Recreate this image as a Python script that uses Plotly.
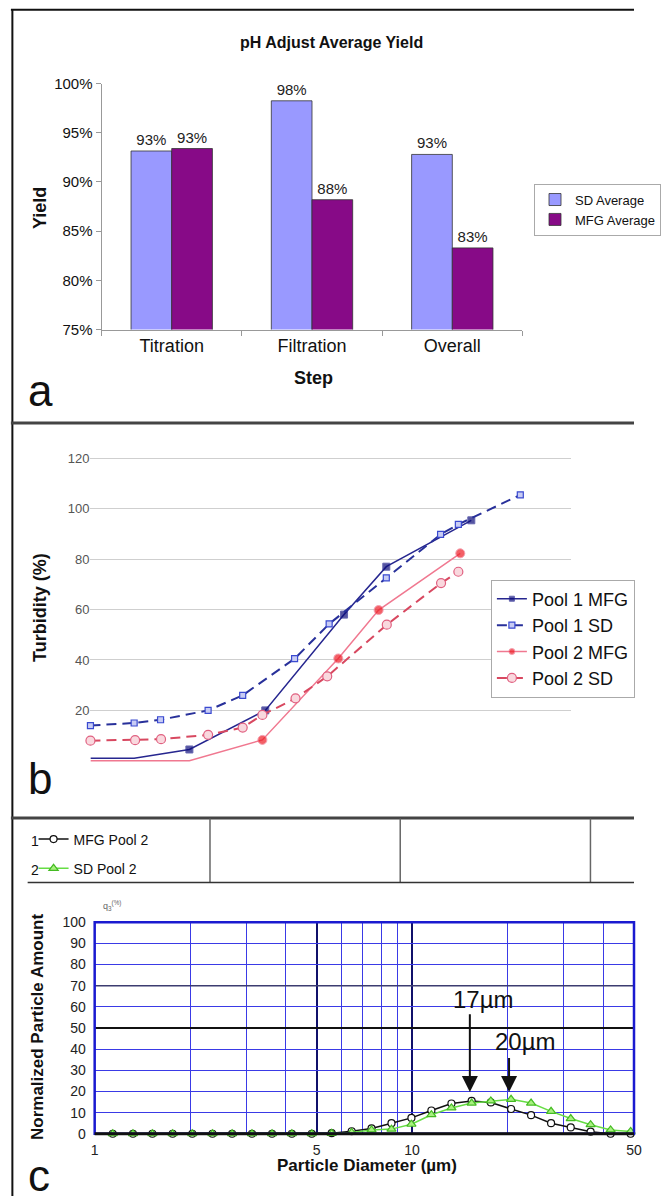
import math
import plotly.graph_objects as go

W, H = 661, 1204
FONT = "Liberation Sans, Arial, sans-serif"
# the photographed page is slightly shrunk and offset; these undo it
SX, OX = 0.967, 3.0
SY, OY = 0.986, 8.4

# ---------------- Panel a data ----------------
a_steps = ["Titration", "Filtration", "Overall"]
a_sd_avg = [93.15, 98.25, 92.8]
a_mfg_avg = [93.4, 88.2, 83.3]
a_yticks = [75, 80, 85, 90, 95, 100]

# ---------------- Panel b data (x axis unlabeled, relative position 0-100) ----------------
b_p1_mfg_x = [0, 9.1, 20.6, 36.4, 52.8, 61.6, 79.3]
b_p1_mfg_y = [1, 1, 4.5, 20, 58, 77, 95.4]
b_p1_sd_x = [0, 9.1, 14.6, 24.5, 31.7, 42.5, 49.7, 61.6, 72.9, 76.6, 89.5]
b_p1_sd_y = [14, 15, 16.3, 20, 26, 40.5, 54.3, 72.6, 89.8, 93.8, 105.5]
b_p2_mfg_x = [0, 20.6, 35.8, 51.6, 60.0, 77.0]
b_p2_mfg_y = [0, 0, 8.3, 40.6, 59.8, 82.3]
b_p2_sd_x = [0, 9.3, 14.7, 24.5, 31.7, 35.8, 42.7, 49.3, 61.7, 73.0, 76.6]
b_p2_sd_y = [8, 8.2, 8.6, 10.3, 13.2, 18.2, 24.8, 33.5, 54, 70.5, 75]
b_yticks = [20, 40, 60, 80, 100, 120]

# ---------------- Panel c data ----------------
c_diam = [1.14, 1.32, 1.52, 1.76, 2.03, 2.35, 2.71, 3.13, 3.62, 4.18, 4.83, 5.58, 6.45,
          7.45, 8.61, 9.95, 11.5, 13.3, 15.4, 17.7, 20.5, 23.7, 27.4, 31.6, 36.5, 42.2, 48.8]
c_mfg = [0, 0, 0, 0, 0, 0, 0, 0, 0, 0, 0, 0.3, 1.2,
         2.5, 5, 7.5, 11, 14.3, 15.5, 14.8, 11.7, 8.8, 5, 3, 1, 0, 0]
c_sd = [0, 0, 0, 0, 0, 0, 0, 0, 0, 0, 0, 0.2, 0.6,
        1.8, 2.2, 4.5, 9, 12.2, 14.5, 15.5, 16.3, 14.5, 10.6, 7.2, 4.3, 1.8, 1.1]
c_xticks = [1, 5, 10, 50]
c_xminor = [2, 3, 4, 6, 7, 8, 9, 20, 30, 40]
c_yticks = [0, 10, 20, 30, 40, 50, 60, 70, 80, 90, 100]
c_peaks = [15.2, 20.2]
c_peak_labels = ["17µm", "20µm"]


def px(x):
    return min(1.0, max(0.0, ((x - OX) / SX) / W))


def py(y):
    return min(1.0, max(0.0, 1 - ((y - OY) / SY) / H))


fig = go.Figure()

# ---- Panel a bars ----
fig.add_trace(go.Bar(x=a_steps, y=a_sd_avg, name="SD Average", xaxis="x", yaxis="y",
                     marker=dict(color="#9999ff", line=dict(color="#333", width=0.8)),
                     texttemplate="%{y:.0f}%", textposition="outside", cliponaxis=False,
                     textfont=dict(size=15, color="#222"), legend="legend"))
fig.add_trace(go.Bar(x=a_steps, y=a_mfg_avg, name="MFG Average", xaxis="x", yaxis="y",
                     marker=dict(color="#870a87", line=dict(color="#333", width=0.8)),
                     texttemplate="%{y:.0f}%", textposition="outside", cliponaxis=False,
                     textfont=dict(size=15, color="#222"), legend="legend"))

# ---- Panel b lines ----
fig.add_trace(go.Scatter(x=b_p1_mfg_x, y=b_p1_mfg_y, name="Pool 1 MFG", mode="lines+markers",
                         xaxis="x2", yaxis="y2", legend="legend2", cliponaxis=False,
                         line=dict(color="#26268f", width=1.5),
                         marker=dict(symbol="square", size=[0, 0] + [7] * (len(b_p1_mfg_x) - 2),
                                     color="#0c0c7a")))
fig.add_trace(go.Scatter(x=b_p1_sd_x, y=b_p1_sd_y, name="Pool 1 SD", mode="lines+markers",
                         xaxis="x2", yaxis="y2", legend="legend2", cliponaxis=False,
                         line=dict(color="#28309a", width=2, dash="10px,6px"),
                         marker=dict(symbol="square", size=6, color="#c8ccf4",
                                     line=dict(color="#3a4ad0", width=1.2))))
fig.add_trace(go.Scatter(x=b_p2_mfg_x, y=b_p2_mfg_y, name="Pool 2 MFG", mode="lines+markers",
                         xaxis="x2", yaxis="y2", legend="legend2", cliponaxis=False,
                         line=dict(color="#f07890", width=1.5),
                         marker=dict(symbol="circle", size=[0, 0] + [9] * (len(b_p2_mfg_x) - 2),
                                     color="#ee1c25")))
fig.add_trace(go.Scatter(x=b_p2_sd_x, y=b_p2_sd_y, name="Pool 2 SD", mode="lines+markers",
                         xaxis="x2", yaxis="y2", legend="legend2", cliponaxis=False,
                         line=dict(color="#d84860", width=2, dash="10px,6px"),
                         marker=dict(symbol="circle", size=9, color="#f9d8de",
                                     line=dict(color="#e06080", width=1.2))))

# ---- Panel c lines ----
fig.add_trace(go.Scatter(x=c_diam, y=c_mfg, name="MFG Pool 2", mode="lines+markers",
                         xaxis="x3", yaxis="y3", legend="legend3", legendgroup="g1",
                         cliponaxis=False,
                         line=dict(color="#111", width=1.5),
                         marker=dict(symbol="circle", size=7, color="white",
                                     line=dict(color="#111", width=1.2))))
fig.add_trace(go.Scatter(x=c_diam, y=c_sd, name="SD Pool 2", mode="lines+markers",
                         xaxis="x3", yaxis="y3", legend="legend3", legendgroup="g2",
                         cliponaxis=False,
                         line=dict(color="#66dd44", width=1.5),
                         marker=dict(symbol="triangle-up", size=8, color="#a8f080",
                                     line=dict(color="#44bb22", width=1.2))))

BLUE = "#3a3ae6"
shapes = []
# outer frame
shapes.append(dict(type="line", xref="paper", yref="paper", x0=px(10), x1=1, y0=py(9.2), y1=py(9.2),
                   line=dict(color="#111", width=2)))
shapes.append(dict(type="line", xref="paper", yref="paper", x0=px(11.5), x1=px(11.5), y0=py(8), y1=0,
                   line=dict(color="#111", width=2)))
# panel separators
for yy in (422.5, 817.5):
    shapes.append(dict(type="line", xref="paper", yref="paper", x0=px(10), x1=1, y0=py(yy), y1=py(yy),
                       line=dict(color="#444", width=3)))
# panel c header table
for xx in (212, 405, 598):
    shapes.append(dict(type="line", xref="paper", yref="paper", x0=px(xx), x1=px(xx),
                       y0=py(818), y1=py(882), line=dict(color="#666", width=1.5)))
shapes.append(dict(type="line", xref="paper", yref="paper", x0=px(27), x1=px(658), y0=py(882), y1=py(882),
                   line=dict(color="#333", width=1.5)))
# panel c special gridlines and frame
shapes.append(dict(type="line", xref="x3 domain", yref="y3", x0=0, x1=1, y0=70, y1=70,
                   line=dict(color="#3c3c70", width=1.5)))
shapes.append(dict(type="line", xref="x3 domain", yref="y3", x0=0, x1=1, y0=50, y1=50,
                   line=dict(color="#111", width=1.8)))
shapes.append(dict(type="rect", xref="x3 domain", yref="y3 domain", x0=0, x1=1, y0=0, y1=1,
                   line=dict(color="#1a1ad0", width=2.5)))
shapes.append(dict(type="line", xref="x3 domain", yref="y3 domain", x0=0, x1=1, y0=0, y1=0,
                   line=dict(color="#111", width=3)))

annotations = []


def txt(text, x, y, size, bold=False, angle=0, color="#111", xanchor="center", yanchor="middle"):
    annotations.append(dict(text=f"<b>{text}</b>" if bold else text, xref="paper", yref="paper",
                            x=px(x), y=py(y), showarrow=False, textangle=angle,
                            font=dict(size=size, color=color, family=FONT),
                            xanchor=xanchor, yanchor=yanchor))


txt("pH Adjust Average Yield", 335, 42, 16, bold=True)
txt("Yield", 39, 207, 18, bold=True, angle=-90)
txt("Step", 317, 377, 18, bold=True)
txt("a", 25, 390, 44, xanchor="left")
txt("Turbidity (%)", 39, 607, 18, bold=True, angle=-90)
txt("b", 25, 778, 44, xanchor="left")
txt("Normalized Particle Amount", 37, 1027, 17, bold=True, angle=-90)
txt("Particle Diameter (µm)", 371, 1165, 17, bold=True)
txt("c", 25, 1175, 44, xanchor="left")
txt("1", 34, 841, 14)
txt("2", 34, 870, 14)
txt("q<sub>3</sub><sup>(%)</sup>", 101, 905, 9, color="#666", xanchor="left")

# arrows and peak labels in panel c
arrow_len = [85, 42]
label_pos = [(16.8, 63.5), (22.8, 43.6)]
for pk, lab, L, (lx, ly) in zip(c_peaks, c_peak_labels, arrow_len, label_pos):
    annotations.append(dict(text=" ", xref="x3", yref="y3", x=math.log10(pk), y=19.7,
                            showarrow=True, arrowhead=2, arrowsize=1.6, arrowwidth=2,
                            arrowcolor="#111", ax=0, ay=-L / SY, standoff=0))
    annotations.append(dict(text=lab, xref="x3", yref="y3", x=math.log10(lx), y=ly,
                            showarrow=False, font=dict(size=24, color="#111", family=FONT),
                            xanchor="center", yanchor="middle"))

fig.update_layout(
    width=W, height=H, margin=dict(l=0, r=0, t=0, b=0),
    paper_bgcolor="white", plot_bgcolor="white",
    font=dict(family=FONT, color="#111"),
    barmode="group", bargap=0.42, bargroupgap=0,
    shapes=shapes, annotations=annotations,
    # panel a axes
    xaxis=dict(domain=[px(102), px(529)], anchor="y", showline=True, linecolor="#999",
               ticks="outside", tickson="boundaries", ticklen=5, tickcolor="#999",
               tickfont=dict(size=18, color="#111"), showgrid=False, zeroline=False),
    yaxis=dict(domain=[py(329), py(83)], anchor="x", range=[75, 100], tickvals=a_yticks,
               ticktext=[f"{v}%" for v in a_yticks], showline=True, linecolor="#999",
               ticks="outside", ticklen=5, tickcolor="#999",
               tickfont=dict(size=15, color="#111"), showgrid=False, zeroline=False),
    # panel b axes
    xaxis2=dict(domain=[px(90.7), px(578)], anchor="y2", range=[0, 100], visible=False),
    yaxis2=dict(domain=[py(770.4), py(452.7)], anchor="x2", range=[-4, 122], tickvals=b_yticks,
                showgrid=True, gridcolor="#cfcfcf", gridwidth=1, zeroline=False, showline=False,
                tickfont=dict(size=13, color="#555")),
    # panel c axes
    xaxis3=dict(domain=[px(95), px(645.6)], anchor="y3", type="log", range=[0, math.log10(50)],
                tickvals=c_xticks, ticktext=[str(v) for v in c_xticks],
                ticks="outside", ticklen=3, tickcolor="rgba(0,0,0,0)",
                showgrid=True, gridcolor="#10106a", gridwidth=1.5, zeroline=False,
                tickfont=dict(size=14, color="#222"),
                minor=dict(tickvals=c_xminor, showgrid=True, gridcolor=BLUE, gridwidth=1, ticks="")),
    yaxis3=dict(domain=[py(1133.3), py(921.7)], anchor="x3", range=[0, 100], tickvals=c_yticks,
                ticks="outside", ticklen=5, tickcolor="rgba(0,0,0,0)",
                showgrid=True, gridcolor=BLUE, gridwidth=1, zeroline=False,
                tickfont=dict(size=14, color="#222")),
    legend=dict(x=px(541), y=py(183), xanchor="left", yanchor="top", bgcolor="white",
                bordercolor="#aaa", borderwidth=1, font=dict(size=13, color="#111"),
                itemwidth=30, tracegroupgap=0),
    legend2=dict(x=px(497), y=py(579), xanchor="left", yanchor="top", bgcolor="white",
                 bordercolor="#aaa", borderwidth=1, font=dict(size=18, color="#111"),
                 itemwidth=30),
    legend3=dict(x=px(33), y=py(823), xanchor="left", yanchor="top", bgcolor="rgba(0,0,0,0)",
                 borderwidth=0, font=dict(size=14, color="#111"), itemwidth=30,
                 tracegroupgap=8),
)

fig.write_html("out.html", config={"displayModeBar": False},
               post_script="document.documentElement.style.margin='0';document.body.style.margin='0';")
